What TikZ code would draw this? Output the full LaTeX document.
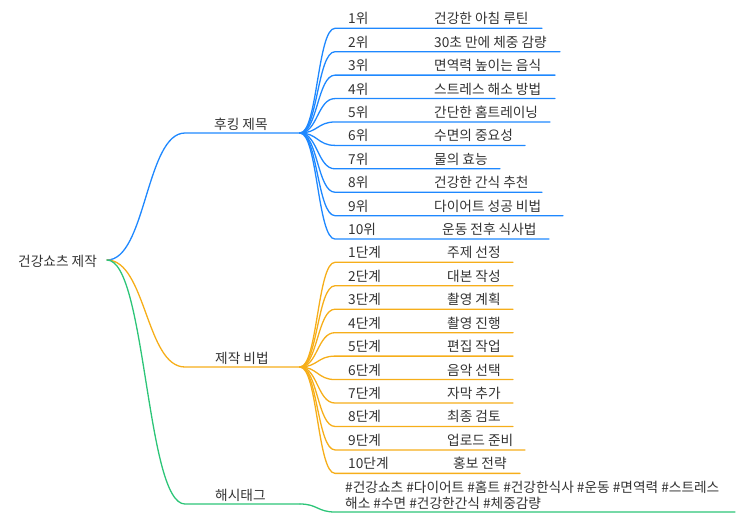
\documentclass[tikz,border=0pt]{standalone}
\usepackage{fontspec}
\setmainfont{Noto Sans CJK KR}
\definecolor{cblue}{HTML}{1E88FF}
\definecolor{corange}{HTML}{F6AE1A}
\definecolor{cgreen}{HTML}{2CC578}
\definecolor{ctext}{HTML}{333333}
\begin{document}
\begin{tikzpicture}[x=1pt,y=-1pt,
  txt/.style={inner sep=0pt,anchor=base west,text=ctext,font=\fontsize{13.7}{16}\selectfont},
  edge/.style={line width=1.3pt,line cap=round}]
\useasboundingbox (0,0) rectangle (743,520);
% root
\node[txt] (root) at (18,266) {건강쇼츠 제작};
\coordinate (rootR) at (107,260);
% branches
\coordinate (hookL) at (185,133); \coordinate (hookR) at (300,133);
\coordinate (makeL) at (185,367); \coordinate (makeR) at (300,367);
\coordinate (tagL) at (185,504); \coordinate (tagR) at (300,504);
\node[txt] (hook) at (214,129) {후킹 제목};
\node[txt] (make) at (215,363) {제작 비법};
\node[txt] (tag) at (215,500) {해시태그};
\draw[edge,cblue] (rootR) .. controls (146,260) and (146,133) .. (hookL) -- (hookR);
\draw[edge,corange] (rootR) .. controls (146,260) and (146,367) .. (makeL) -- (makeR);
\draw[edge,cgreen] (rootR) .. controls (146,260) and (146,504) .. (tagL) -- (tagR);
% hook items
\foreach \i/\w/\e/\t in {1/86/542/건강한 아침 루틴,2/86/560/30초 만에 체중 감량,3/86/555/면역력 높이는 음식,4/86/555/스트레스 해소 방법,5/86/550/간단한 홈트레이닝,6/86/525/수면의 중요성,7/86/500/물의 효능,8/86/542/건강한 간식 추천,9/86/563/다이어트 성공 비법,10/94/549/운동 전후 식사법}{
  \pgfmathsetmacro{\yy}{28.3+23.42*(\i-1)}
  \coordinate (hs\i) at (335,\yy);
  \coordinate (he\i) at (\e,\yy);
  \node[txt] (h\i) at (348,\yy-4.5) {\makebox[\w pt][l]{\i{}위}\t};
  \draw[edge,cblue] (hookR) .. controls +(17.5,0) and +(-17.5,0) .. (hs\i) -- (he\i);
}
% make items
\foreach \i/\w/\e/\t in {1/99/513/주제 선정,2/99/513/대본 작성,3/99/513/촬영 계획,4/99/513/촬영 진행,5/99/513/편집 작업,6/99/513/음악 선택,7/99/513/자막 추가,8/99/513/최종 검토,9/99/525/업로드 준비,10/105/520/홍보 전략}{
  \pgfmathsetmacro{\yy}{262.3+23.45*(\i-1)}
  \coordinate (ms\i) at (335,\yy);
  \coordinate (me\i) at (\e,\yy);
  \node[txt] (m\i) at (348,\yy-4.5) {\makebox[\w pt][l]{\i{}단계}\t};
  \draw[edge,corange] (makeR) .. controls +(17.5,0) and +(-17.5,0) .. (ms\i) -- (me\i);
}
% hashtags
\coordinate (ts) at (335,512); \coordinate (te) at (735,512);
\node[txt,align=left] (tags) at (345,508) {\#건강쇼츠 \#다이어트 \#홈트 \#건강한식사 \#운동 \#면역력 \#스트레스\\해소 \#수면 \#건강한간식 \#체중감량};
\draw[edge,cgreen] (tagR) .. controls +(17.5,0) and +(-17.5,0) .. (ts) -- (te);
\end{tikzpicture}
\end{document}
